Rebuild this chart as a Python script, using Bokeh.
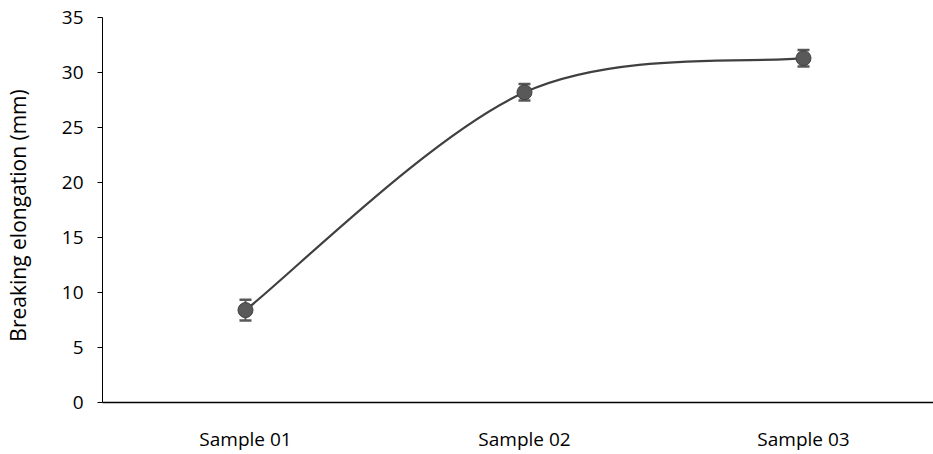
from bokeh.plotting import figure
from bokeh.models import ColumnDataSource, Whisker, FixedTicker, Range1d, TeeHead
from bokeh.embed import file_html
from bokeh.resources import INLINE

categories = ["Sample 01", "Sample 02", "Sample 03"]
values = [8.4, 28.2, 31.3]
errors = [0.95, 0.75, 0.75]
y_ticks = [0, 5, 10, 15, 20, 25, 30, 35]

FONT = "Open Sans"
xs = list(range(len(categories)))

p = figure(width=933, height=454, output_backend="svg", toolbar_location=None,
           x_range=Range1d(-0.5125, 2.466), y_range=Range1d(0, 35),
           min_border_left=102, min_border_right=0, min_border_top=17, min_border_bottom=51)
p.outline_line_color = None
p.xgrid.visible = False
p.ygrid.visible = False
p.background_fill_color = "white"

# smoothed line (Catmull-Rom style bezier like Excel's smoothing)
pts = list(zip(xs, values))
x0s, y0s, x1s, y1s, cx0, cy0, cx1, cy1 = [], [], [], [], [], [], [], []
for i in range(len(pts) - 1):
    pa = pts[i - 1] if i > 0 else pts[i]
    pb = pts[i]
    pc = pts[i + 1]
    pd = pts[i + 2] if i + 2 < len(pts) else pts[i + 1]
    x0s.append(pb[0]); y0s.append(pb[1])
    x1s.append(pc[0]); y1s.append(pc[1])
    cx0.append(pb[0] + (pc[0] - pa[0]) / 6); cy0.append(pb[1] + (pc[1] - pa[1]) / 6)
    cx1.append(pc[0] - (pd[0] - pb[0]) / 6); cy1.append(pc[1] - (pd[1] - pb[1]) / 6)
p.bezier(x0=x0s, y0=y0s, x1=x1s, y1=y1s, cx0=cx0, cy0=cy0, cx1=cx1, cy1=cy1,
         line_color="#404040", line_width=2.2)

src = ColumnDataSource(dict(x=xs, y=values,
                            upper=[v + e for v, e in zip(values, errors)],
                            lower=[v - e for v, e in zip(values, errors)]))
w = Whisker(source=src, base="x", upper="upper", lower="lower",
            line_color="#595959", line_width=2,
            upper_head=TeeHead(size=12, line_color="#595959", line_width=2.5),
            lower_head=TeeHead(size=12, line_color="#595959", line_width=2.5))
p.add_layout(w)
p.scatter("x", "y", source=src, size=15, fill_color="#595959", line_color="#404040", line_width=1)

# axes
p.xaxis.ticker = FixedTicker(ticks=xs)
p.xaxis.major_label_overrides = {i: c for i, c in zip(xs, categories)}
p.xaxis.major_tick_line_color = None
p.xaxis.minor_tick_line_color = None
p.xaxis.major_label_standoff = 17
p.xaxis.axis_line_color = "black"
p.xaxis.axis_line_width = 1.3
p.xaxis.major_label_text_font = FONT
p.xaxis.major_label_text_font_size = "19px"
p.xaxis.major_label_text_color = "black"

p.yaxis.ticker = FixedTicker(ticks=y_ticks)
p.yaxis.minor_tick_line_color = None
p.yaxis.major_tick_out = 5
p.yaxis.major_tick_in = 0
p.yaxis.major_tick_line_color = "black"
p.yaxis.axis_line_color = "black"
p.yaxis.major_label_standoff = 14
p.yaxis.major_label_text_font = FONT
p.yaxis.major_label_text_font_size = "19px"
p.yaxis.major_label_text_color = "black"
p.yaxis.axis_label = "Breaking  elongation  (mm)"
p.yaxis.axis_label_text_font = FONT
p.yaxis.axis_label_text_font_style = "normal"
p.yaxis.axis_label_text_font_size = "21px"
p.yaxis.axis_label_text_color = "black"
p.yaxis.axis_label_standoff = 27

open("out.html", "w").write(file_html(p, INLINE))
